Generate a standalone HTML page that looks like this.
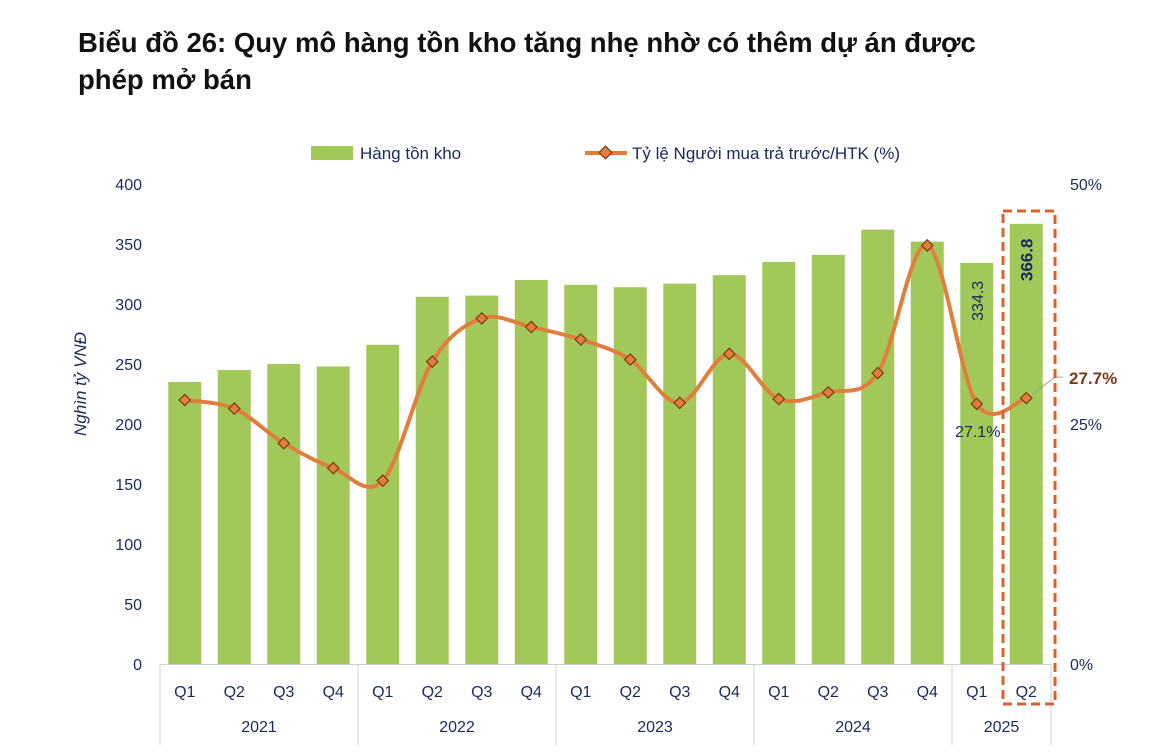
<!DOCTYPE html>
<html><head><meta charset="utf-8"><style>
body{margin:0;background:#fff;width:1162px;height:756px;overflow:hidden;font-family:"Liberation Sans",sans-serif}
h1{position:absolute;left:78px;top:24px;margin:0;font-size:27.5px;line-height:37px;font-weight:bold;color:#111;width:925px}
</style></head><body>
<h1>Biểu đồ 26: Quy mô hàng tồn kho tăng nhẹ nhờ có thêm dự án được phép mở bán</h1>
<svg id="c" width="1162" height="756" style="position:absolute;left:0;top:0" font-family="Liberation Sans, sans-serif"></svg>
<script>
const quarters=["Q1","Q2","Q3","Q4","Q1","Q2","Q3","Q4","Q1","Q2","Q3","Q4","Q1","Q2","Q3","Q4","Q1","Q2"];
const years=["2021","2022","2023","2024","2025"];
const yearCounts=[4,4,4,4,2];
const inventory=[235,245,250,248,266,306,307,320,316,314,317,324,335,341,362,352,334.3,366.8];
const ratio=[27.5,26.6,23.0,20.4,19.1,31.5,36.0,35.1,33.8,31.7,27.2,32.3,27.6,28.3,30.3,43.6,27.1,27.7];
const leftTicks=[0,50,100,150,200,250,300,350,400];
const rightTicks=["0%","25%","50%"];
const rightTickVals=[0,25,50];

const svg=document.getElementById('c');const NS="http://www.w3.org/2000/svg";
function el(t,a,txt){const e=document.createElementNS(NS,t);for(const k in a)e.setAttribute(k,a[k]);if(txt!==undefined)e.textContent=txt;svg.appendChild(e);return e;}
const x0=160,bw=49.5,y0=664,yTop=184;
const yL=v=>y0-v/400*(y0-yTop);
const yR=v=>y0-v/50*(y0-yTop);
const xc=i=>x0+bw*(i+0.5);
let e=el('rect',{x:311,y:146,width:42,height:14,fill:'#a2c85a'});

e=el('text',{x:360,y:159,'font-size':17,fill:'#1a2a5a'},'Hàng tồn kho');

e=el('line',{x1:585,y1:153,x2:627,y2:153,stroke:'#e07f3c','stroke-width':4});

e=el('rect',{x:601,y:148,width:9,height:9,fill:'#e07f3c',stroke:'#7a3a14','stroke-width':1.2,transform:'rotate(45 605.5 152.5)'});

e=el('text',{x:632,y:159,'font-size':17,fill:'#1a2a5a'},'Tỷ lệ Người mua trả trước/HTK (%)');

leftTicks.forEach(v=>{const t=el('text',{x:142,y:yL(v)+6,'font-size':16,fill:'#1a2a5a','text-anchor':'end'},String(v));
});
rightTickVals.forEach((v,i)=>{const t=el('text',{x:1070,y:yR(v)+6,'font-size':16,fill:'#1a2a5a'},rightTicks[i]);
});
e=el('text',{x:0,y:0,'font-size':17,fill:'#1a2a5a','font-style':'italic','text-anchor':'middle',transform:'translate(86 384) rotate(-90)'},'Nghìn tỷ VNĐ');

inventory.forEach((v,i)=>{const b=el('rect',{x:xc(i)-16.5,y:yL(v),width:33,height:y0-yL(v),fill:'#a2c85a'});
});
el('line',{x1:x0,y1:y0+0.5,x2:x0+bw*18,y2:y0+0.5,stroke:'#d0d0d0'});
let acc=0;const bounds=[0];yearCounts.forEach(c=>{acc+=c;bounds.push(acc);});
bounds.forEach(b=>{el('line',{x1:x0+b*bw,y1:y0,x2:x0+b*bw,y2:745,stroke:'#d0d0d0'});});
quarters.forEach((q,i)=>{const t=el('text',{x:xc(i),y:697,'font-size':16,fill:'#1a2a5a','text-anchor':'middle'},q);
});
years.forEach((y,i)=>{const mid=x0+(bounds[i]+bounds[i+1])/2*bw;const t=el('text',{x:mid,y:732,'font-size':16,fill:'#1a2a5a','text-anchor':'middle'},y);
});
const pts=ratio.map((v,i)=>[xc(i),yR(v)]);
let d=`M${pts[0][0]},${pts[0][1]}`;
for(let i=0;i<pts.length-1;i++){const p0=pts[Math.max(0,i-1)],p1=pts[i],p2=pts[i+1],p3=pts[Math.min(pts.length-1,i+2)];
const t=6;d+=` C${p1[0]+(p2[0]-p0[0])/t},${p1[1]+(p2[1]-p0[1])/t} ${p2[0]-(p3[0]-p1[0])/t},${p2[1]-(p3[1]-p1[1])/t} ${p2[0]},${p2[1]}`;}
e=el('path',{d:d,fill:'none',stroke:'#e07f3c','stroke-width':4,'stroke-linejoin':'round'});

pts.forEach(p=>{const m=el('rect',{x:p[0]-4,y:p[1]-4,width:8,height:8,fill:'#e07f3c',stroke:'#7a3a14','stroke-width':1.2,transform:`rotate(45 ${p[0]} ${p[1]})`});
});
const n=inventory.length;
e=el('text',{x:0,y:0,'font-size':16,fill:'#1a2a5a','text-anchor':'middle',transform:`translate(${xc(n-2)+6} ${yL(inventory[n-2])+38}) rotate(-90)`},inventory[n-2].toFixed(1));

e=el('text',{x:0,y:0,'font-size':17,'font-weight':'bold',fill:'#1a2a5a','text-anchor':'middle',transform:`translate(${xc(n-1)+6} ${yL(inventory[n-1])+36}) rotate(-90)`},inventory[n-1].toFixed(1));

e=el('text',{x:xc(n-2)+1,y:yR(ratio[n-2])+33,'font-size':16,fill:'#1a2a5a','text-anchor':'middle'},ratio[n-2].toFixed(1)+'%');

el('polyline',{points:`${xc(n-1)+5},${yR(ratio[n-1])-3} 1055,${yR(ratio[n-1])-21} 1063,${yR(ratio[n-1])-21}`,fill:'none',stroke:'#a0a0a0','stroke-width':1});
e=el('text',{x:1069,y:yR(ratio[n-1])-14,'font-size':17,'font-weight':'bold',fill:'#7a3a14'},ratio[n-1].toFixed(1)+'%');

e=el('rect',{x:1003,y:211,width:52,height:493,fill:'none',stroke:'#e0602a','stroke-width':3,'stroke-dasharray':'9 5'});

</script>
</body></html>
